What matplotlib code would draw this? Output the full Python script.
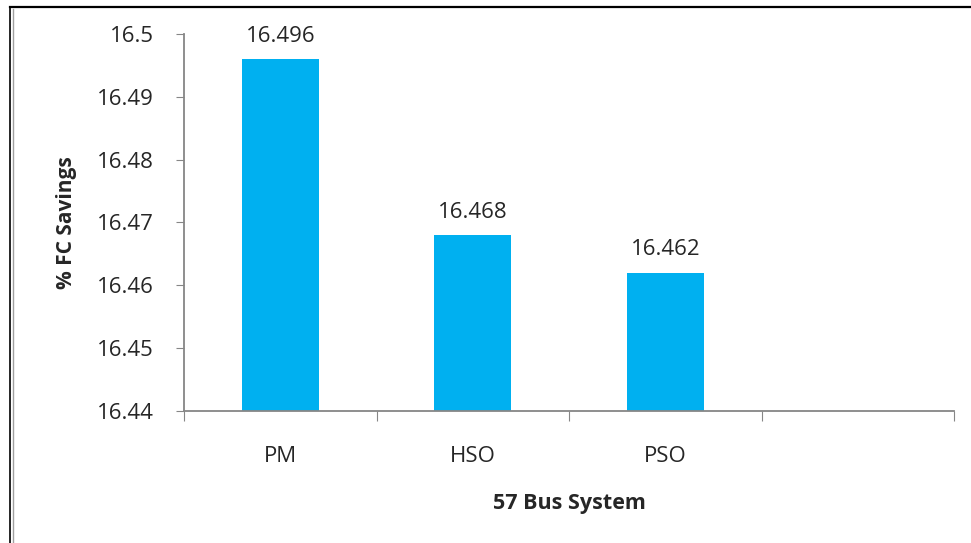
import matplotlib
matplotlib.use("Agg")
import matplotlib.pyplot as plt
from matplotlib.lines import Line2D
import numpy as np

# data
categories = ["PM", "HSO", "PSO"]
savings = [16.496, 16.468, 16.462]
n_slots = 4  # Excel axis leaves one empty category on the right

BAR_COLOR = "#00B0F0"
AXIS_COLOR = "#868686"
TEXT_COLOR = "#262626"
FONT = ["Open Sans", "DejaVu Sans"]

plt.rcParams["font.family"] = FONT

fig = plt.figure(figsize=(9.71, 5.43), dpi=100)
ax = fig.add_axes([0.1895, 0.2431, 0.793, 0.6943])

x = np.arange(len(categories))
ax.bar(x, savings, width=0.4, color=BAR_COLOR, zorder=2)

for xi, v in zip(x, savings):
    ax.annotate(f"{v:.3f}", (xi, v), xytext=(0, 9), textcoords="offset points",
                ha="center", va="bottom", fontsize=16, color=TEXT_COLOR)

ax.set_ylim(16.44, 16.5)
ax.set_yticks(np.arange(16.44, 16.5001, 0.01))
ax.set_yticklabels(["16.44", "16.45", "16.46", "16.47", "16.48", "16.49", "16.5"])
ax.set_xlim(-0.5, n_slots - 0.5)

# category boundary ticks, labels at centers
ax.set_xticks(np.arange(-0.5, n_slots, 1.0))
ax.set_xticklabels([])
ax.set_xticks(x, minor=True)
ax.set_xticklabels(categories, minor=True)
ax.tick_params(axis="x", which="major", length=7, direction="out", color=AXIS_COLOR)
ax.tick_params(axis="x", which="minor", length=0, pad=25, labelsize=16, labelcolor=TEXT_COLOR)
ax.tick_params(axis="y", length=6, direction="out", color=AXIS_COLOR, pad=16,
               labelsize=16, labelcolor=TEXT_COLOR)

for s in ["top", "right"]:
    ax.spines[s].set_visible(False)
for s in ["left", "bottom"]:
    ax.spines[s].set_color(AXIS_COLOR)
    ax.spines[s].set_linewidth(1.3)

ax.set_xlabel("57 Bus System", fontsize=15.5, fontweight="bold", color=TEXT_COLOR, labelpad=19)
ax.set_ylabel("% FC Savings", fontsize=15, fontweight="bold", color=TEXT_COLOR, labelpad=14)

# page frame: black rule along top, grey/black double rule on left
fig.add_artist(Line2D([10 / 971, 1], [1 - 7 / 543] * 2, color="black", lw=1.6,
                      transform=fig.transFigure))
fig.add_artist(Line2D([10 / 971] * 2, [0, 1 - 7 / 543], color="black", lw=1.2,
                      transform=fig.transFigure))
fig.add_artist(Line2D([12.5 / 971] * 2, [0, 1 - 9 / 543], color="#A0A0A0", lw=1.0,
                      transform=fig.transFigure))

fig.savefig("out.png", dpi=100)
